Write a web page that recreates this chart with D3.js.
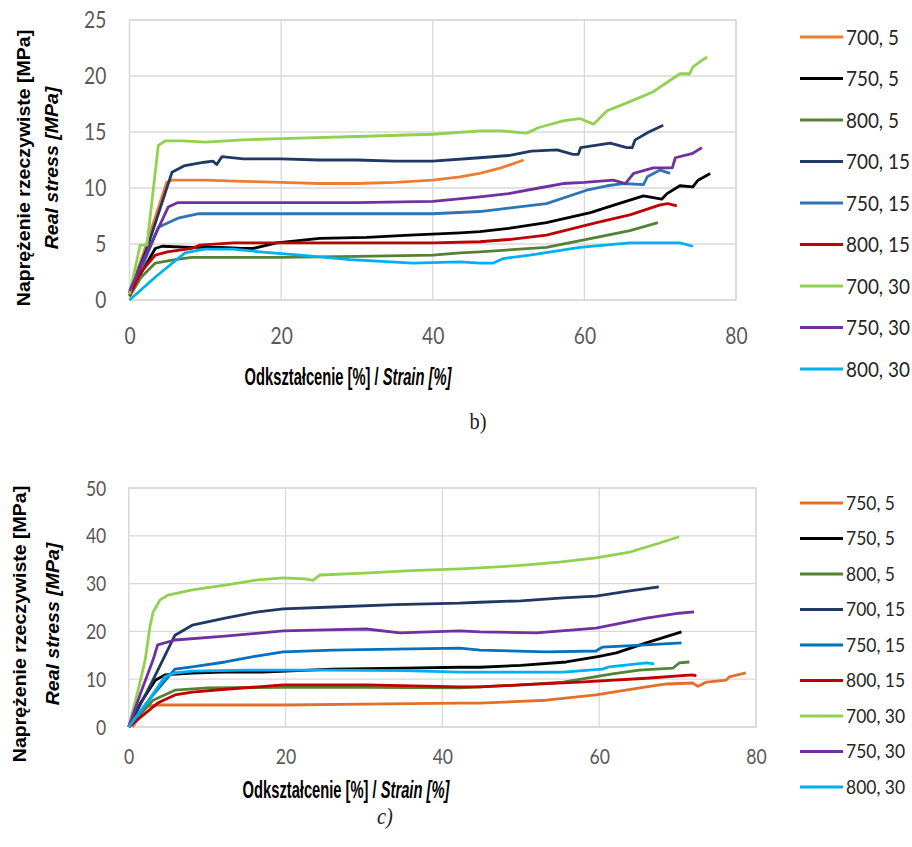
<!DOCTYPE html>
<html>
<head>
<meta charset="utf-8">
<script src="https://cdn.jsdelivr.net/npm/d3@7"></script>
<style>
  body { margin: 0; background: #fff; }
  svg { display: block; }
</style>
</head>
<body>
<div id="chart"></div>
<script>
// legend labels
var labelsB = ["700, 5", "750, 5", "800, 5", "700, 15", "750, 15", "800, 15", "700, 30", "750, 30", "800, 30"];
var labelsC = ["750, 5", "750, 5", "800, 5", "700, 15", "750, 15", "800, 15", "700, 30", "750, 30", "800, 30"];

var colorsB = ["#ED7D31", "#000000", "#548235", "#203864", "#2E75B6", "#C00000", "#92D050", "#7030A0", "#00B0F0"];
var colorsC = ["#E2702B", "#000000", "#548235", "#203864", "#0070C0", "#C00000", "#92D050", "#7030A0", "#00B0F0"];

var xTicks = [0, 20, 40, 60, 80];
var yTicksB = [0, 5, 10, 15, 20, 25];
var yTicksC = [0, 10, 20, 30, 40, 50];

// chart b) : [strain %, stress MPa]
var b700_5 = [[0,0.6],[2,4.5],[4.9,10.5],[5.6,10.7],[10,10.7],[15,10.6],[20,10.5],[25,10.4],[30,10.4],[35,10.5],[40,10.7],[43.6,11.0],[46.2,11.3],[49,11.8],[52,12.5]];
var b750_5 = [[0,0.6],[3.4,4.6],[4.3,4.8],[8,4.7],[12,4.7],[15,4.6],[16.3,4.6],[19.4,5.1],[25.1,5.5],[31.3,5.6],[37,5.8],[43.6,6.0],[46.2,6.1],[50,6.4],[55,6.9],[60.8,7.8],[64,8.5],[67.8,9.3],[70.2,9.0],[70.9,9.5],[72.6,10.2],[74.3,10.1],[75,10.7],[76.6,11.3]];
var b800_5 = [[0,0.3],[1.5,2.0],[3.4,3.3],[6,3.6],[8.2,3.8],[20,3.8],[30,3.9],[40,4.0],[43.6,4.2],[46.2,4.3],[55,4.7],[61.6,5.6],[66,6.2],[69.7,6.9]];
var b700_15 = [[0,0.6],[2.5,5],[5.6,11.4],[7.3,12.0],[9.9,12.3],[11,12.4],[11.5,12.1],[12.2,12.8],[15,12.6],[20,12.6],[25,12.5],[30,12.5],[35,12.4],[40,12.4],[46.2,12.7],[50,12.9],[53,13.3],[56.4,13.4],[58.5,13.0],[59.2,13.0],[59.5,13.6],[63.4,14.0],[65.6,13.6],[66.3,13.6],[66.7,14.3],[68.5,15.0],[70.4,15.6]];
var b750_15 = [[0,0.5],[2,3.5],[3.8,6.5],[6.4,7.3],[9,7.7],[20,7.7],[30,7.7],[40,7.7],[46.2,7.9],[50,8.2],[55,8.6],[60.3,9.8],[63,10.2],[65.1,10.4],[67.8,10.3],[68.3,11.0],[70,11.6],[71.3,11.3]];
var b800_15 = [[0,0.4],[1.5,2.5],[3.4,4.0],[5,4.3],[8.2,4.6],[9.3,4.9],[13.7,5.1],[20,5.1],[30,5.1],[40,5.1],[46.2,5.2],[50,5.4],[55,5.8],[61.6,6.9],[66,7.6],[70,8.5],[71,8.6],[72.2,8.4]];
var b700_30 = [[0,0.5],[1.4,4.9],[2.3,4.9],[3.8,13.8],[4.7,14.2],[7,14.2],[10,14.1],[15,14.3],[20,14.4],[30,14.6],[40,14.8],[46.3,15.1],[49,15.1],[52.4,14.9],[54,15.4],[57.2,16.0],[59.4,16.2],[61.2,15.7],[63,16.9],[65.6,17.6],[69.1,18.6],[72.6,20.2],[73.9,20.2],[74.3,20.8],[75.5,21.4],[76.2,21.7]];
var b750_30 = [[0,0.8],[2.5,4.5],[5.1,8.3],[6.4,8.7],[10,8.7],[20,8.7],[30,8.7],[40,8.8],[46.2,9.2],[50,9.5],[54,10.0],[57.2,10.4],[60,10.5],[63.8,10.7],[65.4,10.4],[66.5,11.3],[69.1,11.8],[71.6,11.8],[72,12.7],[74.3,13.1],[75.5,13.6]];
var b800_30 = [[0,0],[3.5,2.1],[7.3,4.2],[9.9,4.55],[13.7,4.55],[17.2,4.3],[22.5,4.0],[29.1,3.6],[37.4,3.3],[43.6,3.4],[46.2,3.3],[48,3.3],[49.3,3.7],[52.8,4.0],[59.4,4.7],[66,5.1],[72.6,5.1],[74.3,4.8]];

// chart c)
var c750_5a = [[0.5,0],[2.1,4.2],[3.4,4.6],[10,4.6],[20,4.6],[30,4.8],[42.2,5.0],[44.8,5.0],[53.3,5.6],[59.6,6.7],[66,8.4],[68.6,9.0],[71.9,9.2],[72.6,8.5],[73.7,9.4],[76.2,9.8],[76.6,10.5],[78.7,11.3]];
var c750_5 = [[0,0],[1.5,5],[3.4,9.8],[4.6,10.9],[8.1,11.3],[12,11.5],[17.1,11.5],[26,12.1],[35,12.3],[42.2,12.5],[44.8,12.5],[50,12.9],[55.8,13.6],[60,14.8],[62.2,15.5],[66,17.6],[70.5,19.9]];
var c800_5 = [[0,0],[3.1,5.6],[5.9,7.7],[10.1,8.2],[20,8.3],[30,8.3],[42.2,8.2],[44.8,8.4],[50,8.8],[55.4,9.4],[61.7,11.1],[65.1,11.9],[69.4,12.3],[70.2,13.4],[71.5,13.6]];
var c700_15 = [[0,0],[3,9.5],[5.9,19.2],[8.1,21.3],[12.3,22.8],[16.5,24.1],[19.7,24.7],[26,25.1],[34,25.6],[42.2,25.9],[44.8,26.1],[50,26.4],[55.4,27.0],[59.6,27.4],[63.9,28.5],[67.6,29.3]];
var c750_15 = [[0,0],[3,6.5],[5.9,12.1],[8.1,12.6],[12.3,13.6],[16.5,14.9],[19.7,15.7],[26,16.1],[34,16.3],[42.2,16.5],[44.8,16.1],[53.3,15.7],[59.6,15.9],[60.4,16.7],[66,17.2],[70.5,17.6]];
var c800_15 = [[0,0],[3.7,5.0],[5.9,6.7],[8.1,7.3],[12.3,7.9],[16.5,8.4],[19.7,8.8],[30.3,8.8],[42.2,8.4],[44.8,8.4],[50,8.8],[57.5,9.4],[66,10.2],[71.9,10.9],[72.4,10.7]];
var c700_30 = [[0,0],[1.2,7.7],[2.1,14],[2.7,20.9],[3.1,24],[4,26.6],[5,27.6],[8.1,28.7],[12.3,29.7],[16.5,30.8],[19.7,31.2],[22.5,31.0],[23.5,30.7],[24.4,31.8],[30,32.2],[36,32.7],[42.2,33.1],[44.8,33.3],[50,33.8],[54.9,34.5],[59.6,35.4],[63.9,36.6],[67.7,38.5],[70.2,39.8]];
var c750_30 = [[0,0],[1.5,7],[3.1,14],[3.7,17.2],[5.9,18.2],[12.3,19.0],[19.7,20.1],[25,20.3],[30.3,20.5],[34.6,19.7],[42.2,20.1],[44.8,19.9],[52,19.7],[59.6,20.7],[66,22.8],[70.2,23.8],[72.1,24.1]];
var c800_30 = [[0,0],[2.5,5.5],[4.6,10.5],[5.9,11.3],[8.1,11.7],[15,11.9],[25,11.9],[35,11.8],[42.2,11.5],[44.8,11.5],[55.4,11.5],[60.4,12.1],[61.3,12.6],[66,13.4],[67,13.2]];

var seriesB = [b700_5, b750_5, b800_5, b700_15, b750_15, b800_15, b700_30, b750_30, b800_30];
var seriesC = [c750_5a, c750_5, c800_5, c700_15, c750_15, c800_15, c700_30, c750_30, c800_30];

var svg = d3.select("#chart").append("svg")
  .attr("width", 912)
  .attr("height", 847);

var tickFont = "Lato, 'Open Sans', sans-serif";
var titleFont = "'Liberation Sans', Arial, sans-serif";

function drawChart(opt) {
  var x = d3.scaleLinear().domain([0, 80]).range([opt.left, opt.right]);
  var y = d3.scaleLinear().domain([0, opt.yMax]).range([opt.bottom, opt.top]);
  var g = svg.append("g");

  // grid
  g.selectAll(".hgrid").data(opt.yTicks).enter().append("line")
    .attr("x1", opt.left).attr("x2", opt.right)
    .attr("y1", function(d) { return y(d); }).attr("y2", function(d) { return y(d); })
    .attr("stroke", "#d9d9d9").attr("stroke-width", 1.3);
  g.selectAll(".vgrid").data(xTicks).enter().append("line")
    .attr("y1", opt.top).attr("y2", opt.bottom)
    .attr("x1", function(d) { return x(d); }).attr("x2", function(d) { return x(d); })
    .attr("stroke", "#d9d9d9").attr("stroke-width", 1.3);
  g.append("rect")
    .attr("x", opt.left).attr("y", opt.top)
    .attr("width", opt.right - opt.left).attr("height", opt.bottom - opt.top)
    .attr("fill", "none").attr("stroke", "#d9d9d9").attr("stroke-width", 1.3);

  // axes
  var xAxis = g.append("g")
    .attr("transform", "translate(0," + opt.bottom + ")")
    .call(d3.axisBottom(x).tickValues(xTicks).tickSize(0).tickPadding(opt.xPad));
  var yAxis = g.append("g")
    .attr("transform", "translate(" + opt.left + ",0)")
    .call(d3.axisLeft(y).tickValues(opt.yTicks).tickSize(0).tickPadding(opt.yPad));
  [xAxis, yAxis].forEach(function(a) {
    a.select(".domain").remove();
    a.selectAll("text")
      .attr("font-family", tickFont)
      .attr("font-size", opt.tickSize)
      .attr("fill", "#595959")
      .attr("transform", "scale(0.8,1)");
  });

  // lines
  var line = d3.line()
    .x(function(d) { return x(d[0]); })
    .y(function(d) { return y(d[1]); });
  g.selectAll(".series").data(opt.series).enter().append("path")
    .attr("d", line)
    .attr("fill", "none")
    .attr("stroke", function(d, i) { return opt.colors[i]; })
    .attr("stroke-width", 2.8)
    .attr("stroke-linejoin", "round");

  // legend
  var leg = g.selectAll(".leg").data(opt.labels).enter().append("g")
    .attr("transform", function(d, i) { return "translate(800," + (opt.legTop + i * opt.legStep) + ")"; });
  leg.append("line")
    .attr("x1", 0).attr("x2", 43)
    .attr("stroke", function(d, i) { return opt.colors[i]; })
    .attr("stroke-width", 3);
  leg.append("text")
    .attr("transform", "translate(46,0) scale(" + opt.legScale + ",1)")
    .attr("dy", "0.36em")
    .attr("font-family", tickFont)
    .attr("font-size", opt.legSize)
    .attr("fill", "#262626")
    .text(function(d) { return d; });

  // x title
  var xt = g.append("text")
    .attr("transform", "translate(" + opt.xTitleX + "," + opt.xTitleY + ") scale(0.64,1)")
    .attr("text-anchor", "middle")
    .attr("dy", "0.35em")
    .attr("font-family", titleFont)
    .attr("font-size", 23)
    .attr("font-weight", "bold");
  xt.append("tspan").text("Odkształcenie [%] / ");
  xt.append("tspan").attr("font-style", "italic").text("Strain [%]");

  // y title
  g.append("text")
    .attr("transform", "translate(" + opt.yTitleX1 + "," + opt.yTitleY + ") scale(0.9,1) rotate(-90)")
    .attr("text-anchor", "middle")
    .attr("dy", "0.35em")
    .attr("font-family", titleFont)
    .attr("font-size", 19.5)
    .attr("font-weight", "bold")
    .text("Naprężenie rzeczywiste [MPa]");
  g.append("text")
    .attr("transform", "translate(" + opt.yTitleX2 + "," + opt.yTitleY + ") scale(0.9,1) rotate(-90)")
    .attr("text-anchor", "middle")
    .attr("dy", "0.35em")
    .attr("font-family", titleFont)
    .attr("font-size", 19.5)
    .attr("font-weight", "bold")
    .attr("font-style", "italic")
    .text("Real stress [MPa]");

  // caption
  g.append("text")
    .attr("transform", "translate(" + opt.capX + "," + opt.capY + ") scale(0.85,1)")
    .attr("text-anchor", "middle")
    .attr("font-family", "'Liberation Serif', 'DejaVu Serif', serif")
    .attr("font-size", 24)
    .attr("font-style", opt.capItalic ? "italic" : "normal")
    .attr("fill", "#222")
    .text(opt.caption);
}

drawChart({
  left: 129.5, right: 736, top: 20, bottom: 300, yMax: 25, yTicks: yTicksB,
  xPad: 27, yPad: 29, tickSize: 24,
  series: seriesB, colors: colorsB, labels: labelsB,
  legTop: 37, legStep: 41.5, legSize: 21, legScale: 0.9,
  xTitleX: 348, xTitleY: 377,
  yTitleX1: 24, yTitleX2: 52, yTitleY: 168,
  capX: 478, capY: 429, caption: "b)", capItalic: false
});

drawChart({
  left: 128.7, right: 756, top: 488, bottom: 727, yMax: 50, yTicks: yTicksC,
  xPad: 21, yPad: 28, tickSize: 22,
  series: seriesC, colors: colorsC, labels: labelsC,
  legTop: 503, legStep: 35.5, legSize: 19, legScale: 0.92,
  xTitleX: 346, xTitleY: 790,
  yTitleX1: 20, yTitleX2: 53, yTitleY: 624,
  capX: 385, capY: 824, caption: "c)", capItalic: true
});
</script>
</body>
</html>
